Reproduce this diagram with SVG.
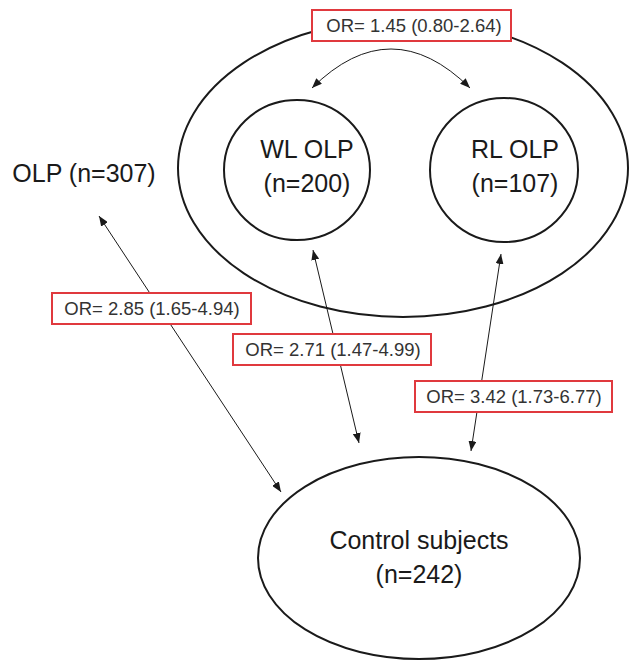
<svg xmlns="http://www.w3.org/2000/svg" width="640" height="666" viewBox="0 0 640 666">
<style>
.node{fill:none;stroke:#1a1a1a;stroke-width:2}
.big{font-family:"Liberation Sans",Arial,sans-serif;font-size:25px;fill:#1a1a1a;text-anchor:middle}
.lbl{font-family:"Liberation Sans",Arial,sans-serif;font-size:18.5px;fill:#333;text-anchor:middle}
.box{fill:#fff;stroke:#e0393e;stroke-width:2}
.conn{fill:none;stroke:#1a1a1a;stroke-width:1;marker-start:url(#ah);marker-end:url(#ah)}
</style>
<defs>
<marker id="ah" viewBox="0 0 10 8" refX="10" refY="4" markerWidth="10" markerHeight="8" markerUnits="userSpaceOnUse" orient="auto-start-reverse">
<path d="M0,0 L10,4 L0,8 Z" fill="#1a1a1a"/>
</marker>
</defs>
<rect width="640" height="666" fill="#fff"/>
<g id="olp">
<ellipse class="node" cx="403" cy="168" rx="225" ry="149"/>
<text class="big" x="84" y="182">OLP (n=307)</text>
</g>
<g id="wl">
<ellipse class="node" cx="297" cy="170" rx="73" ry="70"/>
<text class="big" x="307" y="158">WL OLP</text>
<text class="big" x="307" y="192">(n=200)</text>
</g>
<g id="rl">
<ellipse class="node" cx="504" cy="170" rx="74" ry="72"/>
<text class="big" x="515" y="158">RL OLP</text>
<text class="big" x="515" y="192">(n=107)</text>
</g>
<g id="control">
<ellipse class="node" cx="419" cy="558" rx="161" ry="101"/>
<text class="big" x="419" y="549">Control subjects</text>
<text class="big" x="419" y="583">(n=242)</text>
</g>
<g id="connectors">
<path class="conn" d="M312 88 Q391 10 470 88"/>
<path class="conn" d="M99 216 L281 492"/>
<path class="conn" d="M313 250 L359 443"/>
<path class="conn" d="M501 254 L471 451"/>
</g>
<g id="labels">
<rect class="box" x="312" y="10" width="199" height="31"/>
<text class="lbl" x="414" y="32">OR= 1.45 (0.80-2.64)</text>
<rect class="box" x="52" y="293" width="199" height="31"/>
<text class="lbl" x="152" y="315">OR= 2.85 (1.65-4.94)</text>
<rect class="box" x="233" y="334" width="198" height="31"/>
<text class="lbl" x="333" y="356">OR= 2.71 (1.47-4.99)</text>
<rect class="box" x="415" y="381" width="197" height="31"/>
<text class="lbl" x="514" y="403">OR= 3.42 (1.73-6.77)</text>
</g>
</svg>
